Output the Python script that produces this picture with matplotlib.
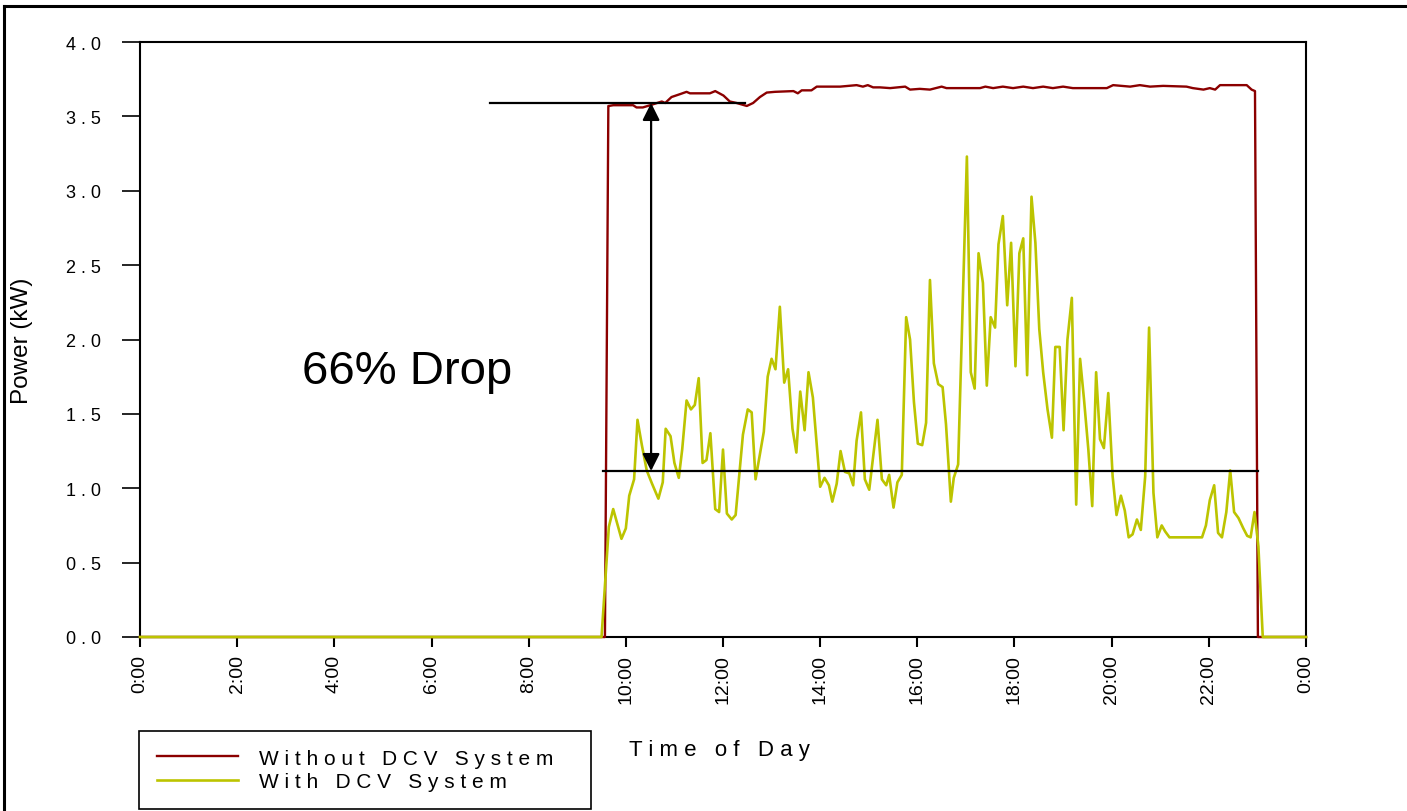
import matplotlib.pyplot as plt
from matplotlib.lines import Line2D

plt.rcParams['font.family'] = ['Liberation Sans', 'DejaVu Sans']

# hours of the day and power (kW)
hours_without = [0, 9.57, 9.64, 9.65, 9.74, 9.98, 10.15, 10.22, 10.35, 10.50, 10.74, 10.81,
                 10.94, 11.12, 11.25, 11.32, 11.73, 11.84, 12.01, 12.14, 12.28, 12.49, 12.62,
                 12.76, 12.90, 13.07, 13.45, 13.54, 13.62, 13.82, 13.93, 14.41, 14.75, 14.88,
                 14.98, 15.09, 15.23, 15.44, 15.75, 15.85, 16.05, 16.26, 16.50, 16.60, 16.88,
                 17.29, 17.40, 17.56, 17.76, 17.97, 18.18, 18.38, 18.59, 18.79, 19.00, 19.20,
                 19.55, 19.90, 20.03, 20.38, 20.58, 20.79, 21.06, 21.54, 21.67, 21.89, 22.02,
                 22.13, 22.23, 22.78, 22.88, 22.95, 23.01, 24]
power_without = [0, 0, 3.57, 3.57, 3.575, 3.575, 3.575, 3.56, 3.56, 3.575, 3.60, 3.59,
                 3.63, 3.65, 3.665, 3.655, 3.655, 3.67, 3.64, 3.60, 3.59, 3.57, 3.59,
                 3.63, 3.66, 3.665, 3.67, 3.655, 3.675, 3.675, 3.70, 3.70, 3.71, 3.70,
                 3.71, 3.695, 3.695, 3.69, 3.70, 3.68, 3.685, 3.68, 3.70, 3.69, 3.69,
                 3.69, 3.70, 3.69, 3.70, 3.69, 3.70, 3.69, 3.70, 3.69, 3.70, 3.69,
                 3.69, 3.69, 3.71, 3.70, 3.71, 3.70, 3.705, 3.70, 3.69, 3.68, 3.69,
                 3.68, 3.71, 3.71, 3.68, 3.67, 0, 0]

hours_with = [0, 9.50, 9.65, 9.74, 9.91, 10.00, 10.07, 10.17, 10.24, 10.33, 10.43, 10.54,
              10.67, 10.76, 10.82, 10.92, 11.00, 11.09, 11.16, 11.25, 11.34, 11.42, 11.50,
              11.58, 11.66, 11.74, 11.84, 11.92, 12.00, 12.08, 12.18, 12.26, 12.41, 12.51,
              12.59, 12.67, 12.84, 12.92, 13.00, 13.08, 13.17, 13.26, 13.34, 13.43, 13.51,
              13.59, 13.68, 13.76, 13.85, 14.00, 14.09, 14.18, 14.25, 14.34, 14.42, 14.51,
              14.60, 14.68, 14.75, 14.84, 14.92, 15.01, 15.18, 15.27, 15.36, 15.42, 15.51,
              15.59, 15.68, 15.77, 15.85, 15.93, 16.01, 16.10, 16.18, 16.26, 16.34, 16.43,
              16.52, 16.59, 16.69, 16.75, 16.84, 17.02, 17.10, 17.18, 17.26, 17.35, 17.43,
              17.51, 17.60, 17.67, 17.76, 17.85, 17.93, 18.02, 18.10, 18.18, 18.26, 18.35,
              18.43, 18.51, 18.59, 18.68, 18.77, 18.84, 18.93, 19.01, 19.09, 19.18, 19.27,
              19.35, 19.43, 19.52, 19.60, 19.68, 19.76, 19.84, 19.93, 20.02, 20.10, 20.19,
              20.27, 20.35, 20.43, 20.52, 20.60, 20.69, 20.77, 20.86, 20.94, 21.03, 21.10,
              21.19, 21.86, 21.94, 22.02, 22.11, 22.19, 22.27, 22.36, 22.44, 22.52, 22.61,
              22.71, 22.79, 22.86, 22.94, 23.02, 23.11, 24]
power_with = [0, 0, 0.74, 0.86, 0.66, 0.73, 0.95, 1.06, 1.46, 1.29, 1.12, 1.03,
              0.93, 1.04, 1.40, 1.35, 1.17, 1.07, 1.26, 1.59, 1.53, 1.56, 1.74,
              1.17, 1.19, 1.37, 0.86, 0.84, 1.26, 0.83, 0.79, 0.82, 1.36, 1.53,
              1.51, 1.06, 1.38, 1.75, 1.87, 1.80, 2.22, 1.71, 1.80, 1.40, 1.24,
              1.65, 1.39, 1.78, 1.61, 1.01, 1.07, 1.02, 0.91, 1.03, 1.25, 1.11,
              1.10, 1.02, 1.32, 1.51, 1.06, 0.99, 1.46, 1.06, 1.02, 1.09, 0.87,
              1.04, 1.09, 2.15, 2.00, 1.58, 1.30, 1.29, 1.44, 2.40, 1.84, 1.70,
              1.68, 1.43, 0.91, 1.07, 1.16, 3.23, 1.78, 1.67, 2.58, 2.38, 1.69,
              2.15, 2.08, 2.64, 2.83, 2.23, 2.65, 1.82, 2.58, 2.68, 1.76, 2.96,
              2.65, 2.07, 1.78, 1.53, 1.34, 1.95, 1.95, 1.39, 2.00, 2.28, 0.89,
              1.87, 1.60, 1.26, 0.88, 1.78, 1.33, 1.27, 1.64, 1.08, 0.82, 0.95,
              0.85, 0.67, 0.69, 0.79, 0.72, 1.08, 2.08, 0.97, 0.67, 0.75, 0.71,
              0.67, 0.67, 0.75, 0.92, 1.02, 0.70, 0.67, 0.84, 1.12, 0.84, 0.80,
              0.73, 0.68, 0.67, 0.84, 0.61, 0, 0]

peak_level = 3.59
dcv_level = 1.116

fig = plt.figure(figsize=(14.07, 8.12), dpi=100)
ax = fig.add_axes([140 / 1407, 174 / 812, 1166 / 1407, 595 / 812])

ax.plot(hours_without, power_without, color='#8b0000', lw=1.7,
        label='W i t h o u t   D C V   S y s t e m', clip_on=False, zorder=3)
ax.plot(hours_with, power_with, color='#bcc400', lw=1.9,
        label='W i t h   D C V   S y s t e m', clip_on=False, zorder=3)

# annotation: drop between the two levels
ax.plot([7.20, 12.45], [peak_level, peak_level], color='black', lw=1.6, zorder=4)
ax.plot([9.53, 23.01], [dcv_level, dcv_level], color='black', lw=1.6, zorder=4)
ax.annotate('', xy=(10.52, dcv_level), xytext=(10.52, peak_level),
            arrowprops=dict(arrowstyle='<|-|>,head_length=0.4,head_width=0.2',
                            color='black', lw=1.6, mutation_scale=26,
                            shrinkA=0, shrinkB=0), zorder=5)
ax.text(3.33, 1.79, '66% Drop', fontsize=34, ha='left', va='center')

ax.set_xlim(0, 24)
ax.set_ylim(0, 4)
xt = list(range(0, 25, 2))
ax.set_xticks(xt)
ax.set_xticklabels([f'{h % 24}:00' for h in xt])
yt = [i * 0.5 for i in range(9)]
ax.set_yticks(yt)
ax.set_yticklabels([' '.join(f'{v:.1f}') for v in yt])
ax.tick_params(axis='x', direction='out', length=7, width=1.5, pad=5,
               labelsize=14, labelrotation=90)
ax.tick_params(axis='y', direction='out', length=13, width=1.2, pad=15,
               labelsize=13)
for s in ax.spines.values():
    s.set_linewidth(1.5)
    s.set_color('black')

ax.set_ylabel('Power (kW)', fontsize=17.5)
ax.yaxis.set_label_coords(-0.092, 0.5)
ax.set_xlabel('T i m e   o f   D a y', fontsize=16)
ax.xaxis.set_label_coords(0.497, -0.172)

leg = ax.legend(loc='lower left', bbox_to_anchor=(139 / 1407, 2 / 812, 452 / 1407, 78 / 812),
                bbox_transform=fig.transFigure, mode='expand', fontsize=15,
                fancybox=False, framealpha=1, edgecolor='black', borderaxespad=0,
                handlelength=3.9, handletextpad=1.0, labelspacing=0.22, borderpad=0.85)
leg.get_frame().set_linewidth(1.2)

# outer frame of the original figure
fig.add_artist(Line2D([4 / 1407, 4 / 1407], [0, 1 - 7 / 812], color='black', lw=2.2,
                      transform=fig.transFigure))
fig.add_artist(Line2D([4 / 1407, 1], [1 - 7 / 812, 1 - 7 / 812], color='black', lw=2.2,
                      transform=fig.transFigure))

fig.savefig('out.png', dpi=100)
